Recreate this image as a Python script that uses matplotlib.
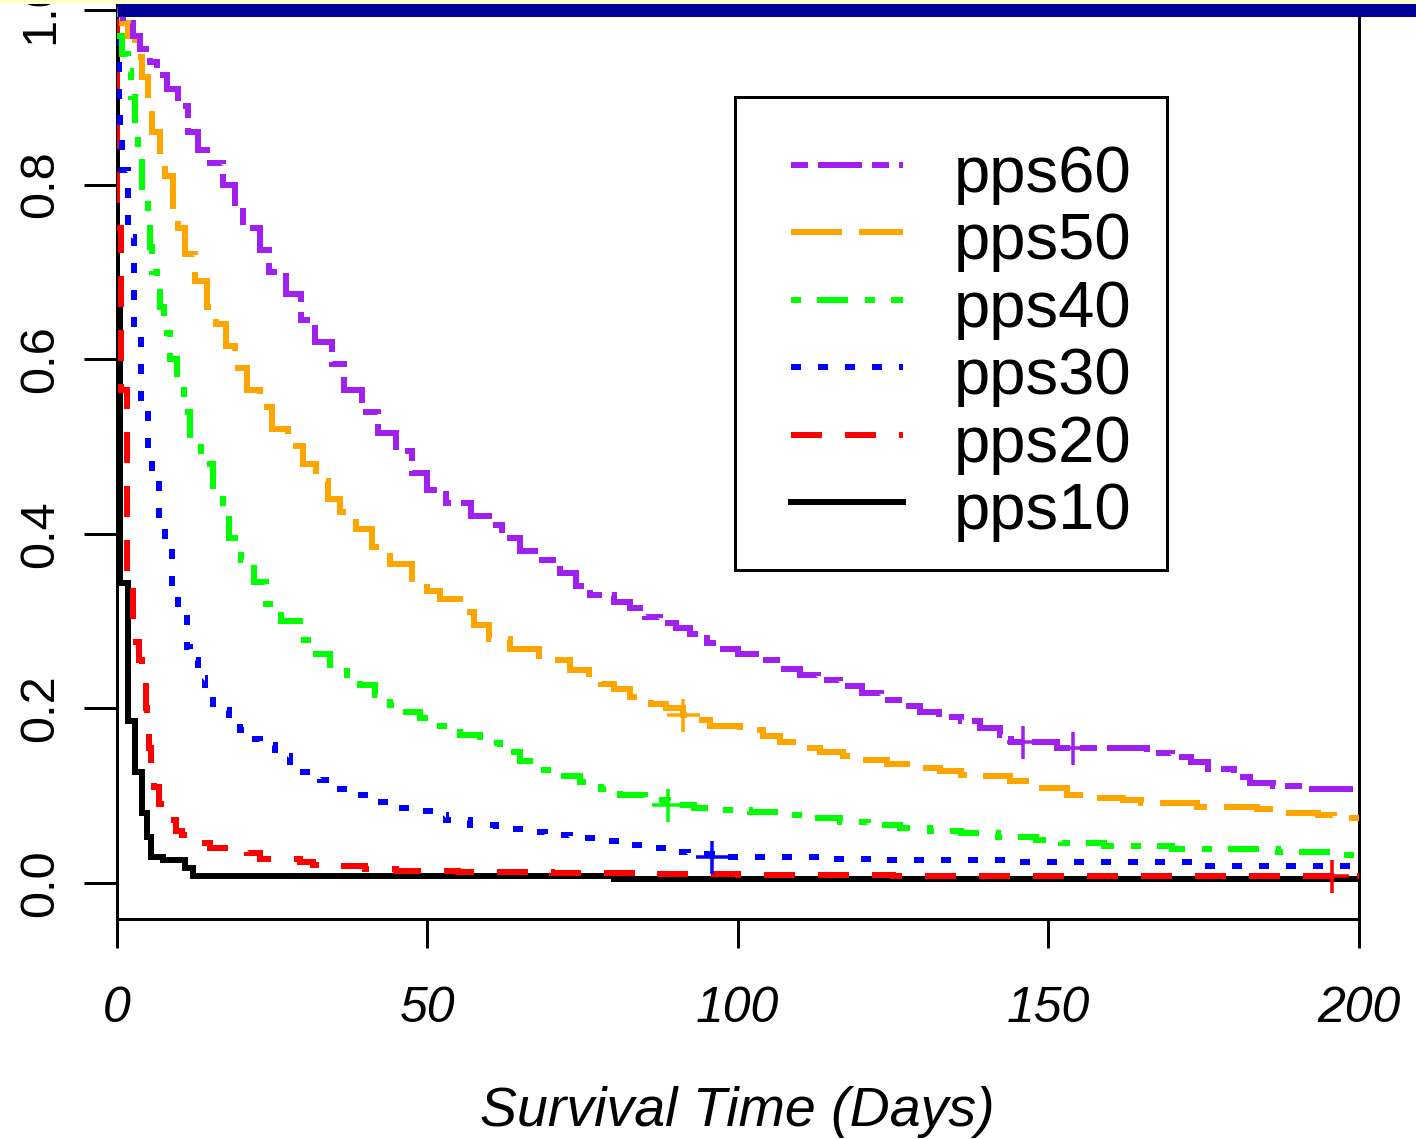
import matplotlib
matplotlib.use('Agg')
import matplotlib.pyplot as plt
from matplotlib.lines import Line2D
from matplotlib.patches import Rectangle

plt.rcParams['font.family'] = ['Liberation Sans', 'DejaVu Sans']
plt.rcParams['lines.scale_dashes'] = False

# ---------------- data (Kaplan-Meier step curves) ----------------
groups = ['pps60', 'pps50', 'pps40', 'pps30', 'pps20', 'pps10']
colors = ['#A020F0', '#FFA500', '#00FF00', '#0000FF', '#FF0000', '#000000']

t_pps60 = [0, 1.0, 2.5, 3.7, 5.3, 6.5, 8.0, 9.8, 11.4, 13, 14.5, 17, 19, 20.3, 23, 24.5, 27.3,
           29.7, 31.9, 34.6, 36.5, 39.5, 42, 45, 47.5, 50, 53, 57, 60, 62, 65, 68, 71.4, 74,
           76.2, 80, 82.7, 85, 87.5, 90, 92.3, 95, 97.2, 100, 103.6, 107, 110, 113, 116.5,
           120, 123, 126, 129.4, 132.5, 135.9, 139, 142.3, 144, 151.5, 166, 170, 173,
           175.7, 180, 182.6, 186.3, 191.8, 200]
s_pps60 = [1.0, 0.985, 0.97, 0.955, 0.94, 0.925, 0.91, 0.89, 0.86, 0.84, 0.825, 0.8, 0.77,
           0.75, 0.725, 0.70, 0.675, 0.645, 0.62, 0.595, 0.565, 0.54, 0.515, 0.495, 0.47,
           0.45, 0.435, 0.42, 0.41, 0.395, 0.38, 0.37, 0.355, 0.34, 0.33, 0.322, 0.315,
           0.305, 0.298, 0.292, 0.285, 0.275, 0.268, 0.262, 0.255, 0.245, 0.238, 0.232,
           0.226, 0.218, 0.21, 0.203, 0.196, 0.19, 0.185, 0.178, 0.17, 0.161, 0.155,
           0.149, 0.144, 0.139, 0.13, 0.121, 0.115, 0.111, 0.108, 0.108]

t_pps50 = [0, 0.8, 1.8, 2.9, 4.0, 5.0, 5.6, 6.9, 7.7, 9.0, 9.8, 11.0, 12.6, 14.5, 16, 17.5,
           19, 21, 23, 25, 27.5, 30, 32, 34, 36, 38.5, 41, 44, 47.5, 50, 52, 55.3, 57.5, 60,
           63.3, 68, 73, 76, 78, 80, 82.7, 86, 88.5, 91.1, 93, 95.6, 100.4, 104, 106.8, 110,
           113.3, 117, 120, 124, 128, 132.6, 136, 139, 143.9, 147.6, 153, 155.7, 162, 165,
           174, 183.7, 186.3, 193.4, 196, 200]
s_pps50 = [1.0, 0.985, 0.97, 0.946, 0.923, 0.886, 0.86, 0.83, 0.81, 0.775, 0.75, 0.72, 0.69,
           0.66, 0.64, 0.615, 0.59, 0.565, 0.545, 0.52, 0.50, 0.48, 0.46, 0.44, 0.425, 0.405,
           0.385, 0.365, 0.345, 0.335, 0.325, 0.31, 0.295, 0.28, 0.268, 0.255, 0.244, 0.235,
           0.228, 0.222, 0.213, 0.205, 0.2, 0.192, 0.187, 0.18, 0.175, 0.168, 0.161, 0.155,
           0.15, 0.145, 0.141, 0.136, 0.132, 0.128, 0.124, 0.122, 0.117, 0.109, 0.101,
           0.097, 0.095, 0.092, 0.087, 0.085, 0.080, 0.078, 0.074, 0.074]

t_pps40 = [0, 0.5, 0.8, 1.8, 2.3, 2.9, 3.4, 4.0, 5.0, 5.3, 5.6, 6.5, 7.0, 7.6, 8.6, 9.7, 10.8,
           11.8, 13.5, 15.5, 17, 18, 20, 22, 24, 26.5, 29.5, 32, 34.3, 37, 39.2, 41.5, 44,
           46.5, 48.8, 52, 55.3, 58.5, 61.7, 65, 68.2, 71.5, 74.6, 78, 81.1, 85, 88.8, 93,
           97.2, 102, 106.8, 111, 116.5, 121, 126.2, 131, 135.9, 142, 148, 152, 159, 170,
           187, 197, 200]
s_pps40 = [1.0, 0.97, 0.95, 0.93, 0.90, 0.866, 0.832, 0.797, 0.767, 0.729, 0.70, 0.685, 0.66,
           0.63, 0.60, 0.57, 0.54, 0.505, 0.48, 0.45, 0.425, 0.395, 0.37, 0.345, 0.32, 0.30,
           0.278, 0.262, 0.25, 0.238, 0.227, 0.215, 0.204, 0.196, 0.189, 0.18, 0.17, 0.16,
           0.15, 0.14, 0.129, 0.122, 0.116, 0.108, 0.101, 0.095, 0.089, 0.086, 0.084, 0.081,
           0.078, 0.074, 0.07, 0.066, 0.063, 0.06, 0.057, 0.053, 0.049, 0.046, 0.042, 0.039,
           0.036, 0.032, 0.032]

t_pps30 = [0, 0.1, 0.2, 0.3, 0.4, 0.5, 0.8, 1.8, 2.8, 3.9, 5.0, 5.6, 6.8, 7.8, 8.8, 9.8, 11.3,
           11.8, 13, 14.2, 15.5, 16.6, 18, 19.8, 21.5, 23, 25.5, 27.9, 30, 32.7, 35, 37.5, 41,
           44, 47, 50.4, 53, 56.9, 61, 65, 69, 73, 77, 81.1, 85, 89.1, 92, 95.9, 113.3, 123,
           145, 174, 200]
s_pps30 = [1.0, 0.97, 0.945, 0.92, 0.893, 0.866, 0.817, 0.74, 0.63, 0.555, 0.49, 0.47, 0.41,
           0.39, 0.34, 0.32, 0.27, 0.255, 0.235, 0.221, 0.205, 0.198, 0.185, 0.175, 0.165,
           0.158, 0.145, 0.135, 0.127, 0.118, 0.108, 0.101, 0.093, 0.086, 0.082, 0.078, 0.072,
           0.066, 0.062, 0.058, 0.055, 0.052, 0.048, 0.044, 0.04, 0.036, 0.033, 0.030, 0.028,
           0.026, 0.024, 0.019, 0.019]

t_pps20 = [0, 0.05, 0.6, 1.6, 2.6, 3.0, 3.6, 4.0, 4.6, 4.9, 5.2, 5.5, 6.0, 6.8, 8.5, 9.5, 10.5,
           13, 15, 21, 23, 29.5, 31.5, 36, 40, 45, 55, 70, 85, 100, 125, 200]
s_pps20 = [1.0, 0.75, 0.565, 0.34, 0.30, 0.276, 0.255, 0.229, 0.2, 0.18, 0.155, 0.13, 0.11,
           0.09, 0.072, 0.06, 0.055, 0.046, 0.04, 0.034, 0.028, 0.024, 0.021, 0.019, 0.016,
           0.014, 0.012, 0.011, 0.01, 0.009, 0.008, 0.008]

t_pps10 = [0, 0.05, 0.5, 1.7, 2.9, 4.0, 4.9, 5.5, 7.4, 11, 12.2, 80, 200]
s_pps10 = [1.0, 0.68, 0.344, 0.185, 0.127, 0.08, 0.053, 0.03, 0.026, 0.017, 0.008, 0.005, 0.005]

# censoring marks
cens_groups = ['pps60', 'pps60', 'pps50', 'pps40', 'pps30', 'pps20']
cens_t = [146, 154, 91.1, 88.8, 95.9, 195.8]
cens_s = [0.161, 0.155, 0.192, 0.089, 0.030, 0.008]

times = {'pps60': t_pps60, 'pps50': t_pps50, 'pps40': t_pps40,
         'pps30': t_pps30, 'pps20': t_pps20, 'pps10': t_pps10}
survs = {'pps60': s_pps60, 'pps50': s_pps50, 'pps40': s_pps40,
         'pps30': s_pps30, 'pps20': s_pps20, 'pps10': s_pps10}

xticks = [0, 50, 100, 150, 200]
yticks = [0.0, 0.2, 0.4, 0.6, 0.8, 1.0]
ytick_labels = ['0.0', '0.2', '0.4', '0.6', '0.8', '1.0']
xlabel = 'Survival Time (Days)'

# ---------------- styles ----------------
PX = 0.72  # points per pixel at 100 dpi
styles = {
    'pps60': (0, [17 * PX, 10 * PX, 44 * PX, 10 * PX]),
    'pps50': (0, [51 * PX, 17 * PX]),
    'pps40': (0, [10 * PX, 16 * PX, 31 * PX, 17 * PX]),
    'pps30': (0, [10 * PX, 17 * PX]),
    'pps20': (0, [31 * PX, 23 * PX]),
    'pps10': '-',
}
col = dict(zip(groups, colors))
LW = 6 * PX

W, H = 1416, 1139
fig = plt.figure(figsize=(W / 100, H / 100), dpi=100)
fig.patch.set_facecolor('white')


def fx(x):
    return x / W


def fy(y):
    return 1 - y / H


ax_l, ax_r, ax_b, ax_t = 117, 1358.5, 918.5, -25.5
ax = fig.add_axes([fx(ax_l), fy(ax_b), (ax_r - ax_l) / W, (ax_b - ax_t) / H])
ax.set_xlim(0, 200)
ax.set_ylim(-0.0407, 1.0407)

for g in groups[::-1]:
    ax.step(times[g], survs[g], where='post', color=col[g], lw=LW, linestyle=styles[g],
            dash_capstyle='butt', solid_joinstyle='miter', dash_joinstyle='miter', zorder=3)

for g, t, s in zip(cens_groups, cens_t, cens_s):
    ax.plot([t], [s], marker='+', ms=33 * PX, mew=3.5 * PX, color=col[g], ls='none', zorder=4)

for sp in ax.spines.values():
    sp.set_linewidth(3 * PX)
    sp.set_color('black')

ax.set_xticks(xticks)
ax.set_xticklabels([str(v) for v in xticks], fontsize=36, fontstyle='italic')
ax.set_yticks(yticks)
ax.set_yticklabels(ytick_labels, fontsize=35, rotation=90, va='center')
ax.tick_params(axis='x', length=28.5 * PX, width=3 * PX, pad=39 * PX, direction='out')
ax.tick_params(axis='y', length=33 * PX, width=3 * PX, pad=21 * PX, direction='out')

ax.set_xlabel(xlabel, fontsize=40, fontstyle='italic')
ax.xaxis.set_label_coords(0.5, (ax_b - 1086) / (ax_b - ax_t))

# ---------------- legend (drawn in pixel layout) ----------------
fig.add_artist(Rectangle((fx(735), fy(570)), (1167 - 735) / W, (570 - 97) / H,
                         transform=fig.transFigure, facecolor='white', edgecolor='black',
                         lw=3 * PX, zorder=5))
row_y = [165, 232, 300, 367, 435, 502]
for g, yy in zip(groups, row_y):
    fig.add_artist(Line2D([fx(791), fx(903)], [fy(yy), fy(yy)], transform=fig.transFigure,
                          color=col[g], lw=LW, linestyle=styles[g], dash_capstyle='butt',
                          zorder=6))
    fig.text(fx(954), fy(yy + 27), g, fontsize=47, ha='left', va='baseline', zorder=6)

# ---------------- slide decoration at top ----------------
fig.add_artist(Rectangle((0, fy(4)), 1, 4 / H, transform=fig.transFigure,
                         facecolor='#FFFFCC', edgecolor='none', zorder=10))
fig.add_artist(Rectangle((fx(118), fy(17)), (W - 118) / W, 13 / H, transform=fig.transFigure,
                         facecolor='#000099', edgecolor='none', zorder=10))

fig.savefig('out.png', dpi=100)
